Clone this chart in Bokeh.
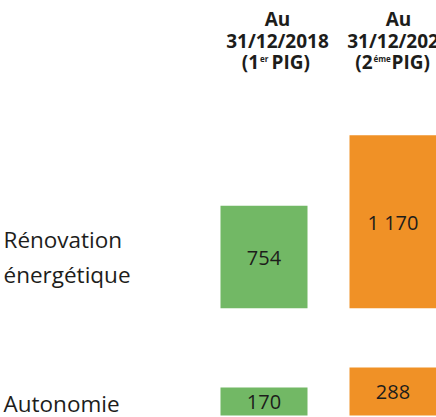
from bokeh.plotting import figure
from bokeh.models import Range1d, ColumnDataSource
from bokeh.core.properties import value
from bokeh.embed import file_html
from bokeh.resources import INLINE

# ---- data ----
categories = ["Rénovation\nénergétique", "Autonomie"]
period_dates = ["31/12/2018", "31/12/2020"]
period_ord = ["1", "2"]
period_sup = ["er", "éme"]
pig1 = [754, 170]
pig2 = [1170, 288]
value_labels_1 = ["754", "170"]
value_labels_2 = ["1 170", "288"]

# ---- layout (screen-like coordinates, y downward) ----
W, H = 436, 417
FONT = value("Open Sans")
TXT = "#1d1d1b"
GREEN = "#72B865"
ORANGE = "#F09126"

p = figure(width=W, height=H, output_backend="svg", toolbar_location=None,
           x_range=Range1d(0, W), y_range=Range1d(H, 0), min_border=0,
           outline_line_color=None)
p.axis.visible = False
p.grid.visible = False
p.background_fill_color = "white"
p.border_fill_color = "white"

col_x = [263.5, 392.5]        # bar centres
head_x = [277, 398]           # header centres
row_base = [307.7, 415]       # bar baselines
row_start = [152, 5]          # value at each row's baseline
px_per_unit = 0.17
bar_w = 87

# bars
for ci, (vals, labels, color) in enumerate([(pig1, value_labels_1, GREEN),
                                            (pig2, value_labels_2, ORANGE)]):
    tops = [row_base[r] - (vals[r] - row_start[r]) * px_per_unit for r in range(len(vals))]
    src = ColumnDataSource(dict(x=[col_x[ci]] * len(vals), top=tops, bottom=row_base,
                                mid=[(t + b) / 2 + 1 for t, b in zip(tops, row_base)],
                                lab=labels))
    p.vbar(x="x", top="top", bottom="bottom", width=bar_w, source=src,
           fill_color=color, line_color=None)
    p.text(x="x", y="mid", text="lab", source=src, text_font=FONT,
           text_font_size="20px", text_color=TXT, text_align="center",
           text_baseline="middle")

# headers (y = vertical centre of capitals)
for ci in range(2):
    p.text(x=[head_x[ci], head_x[ci]], y=[18, 40], text=["Au", period_dates[ci]],
           text_font=FONT, text_font_style="bold", text_font_size="19px",
           text_color=TXT, text_align="center", text_baseline="middle")
sup_anchor = [258.5, 372]
sup_end = [271, 391]
for ci in range(2):
    p.text(x=[sup_anchor[ci]], y=[61.5], text=["(" + period_ord[ci]],
           text_font=FONT, text_font_style="bold", text_font_size="19px",
           text_color=TXT, text_align="right", text_baseline="middle")
    p.text(x=[sup_anchor[ci] + 1], y=[58], text=[period_sup[ci]],
           text_font=FONT, text_font_style="bold", text_font_size="8px",
           text_color=TXT, text_align="left", text_baseline="middle")
    p.text(x=[sup_end[ci]], y=[61.5], text=["PIG)"],
           text_font=FONT, text_font_style="bold", text_font_size="19px",
           text_color=TXT, text_align="left", text_baseline="middle")

# row labels
lab_lines_y = [[239, 274], [402.5]]
for r, cat in enumerate(categories):
    lines = cat.split("\n")
    p.text(x=[3] * len(lines), y=lab_lines_y[r], text=lines, text_font=FONT,
           text_font_size="22.5px", text_color=TXT, text_align="left",
           text_baseline="middle")

open("out.html", "w").write(file_html(p, INLINE))
